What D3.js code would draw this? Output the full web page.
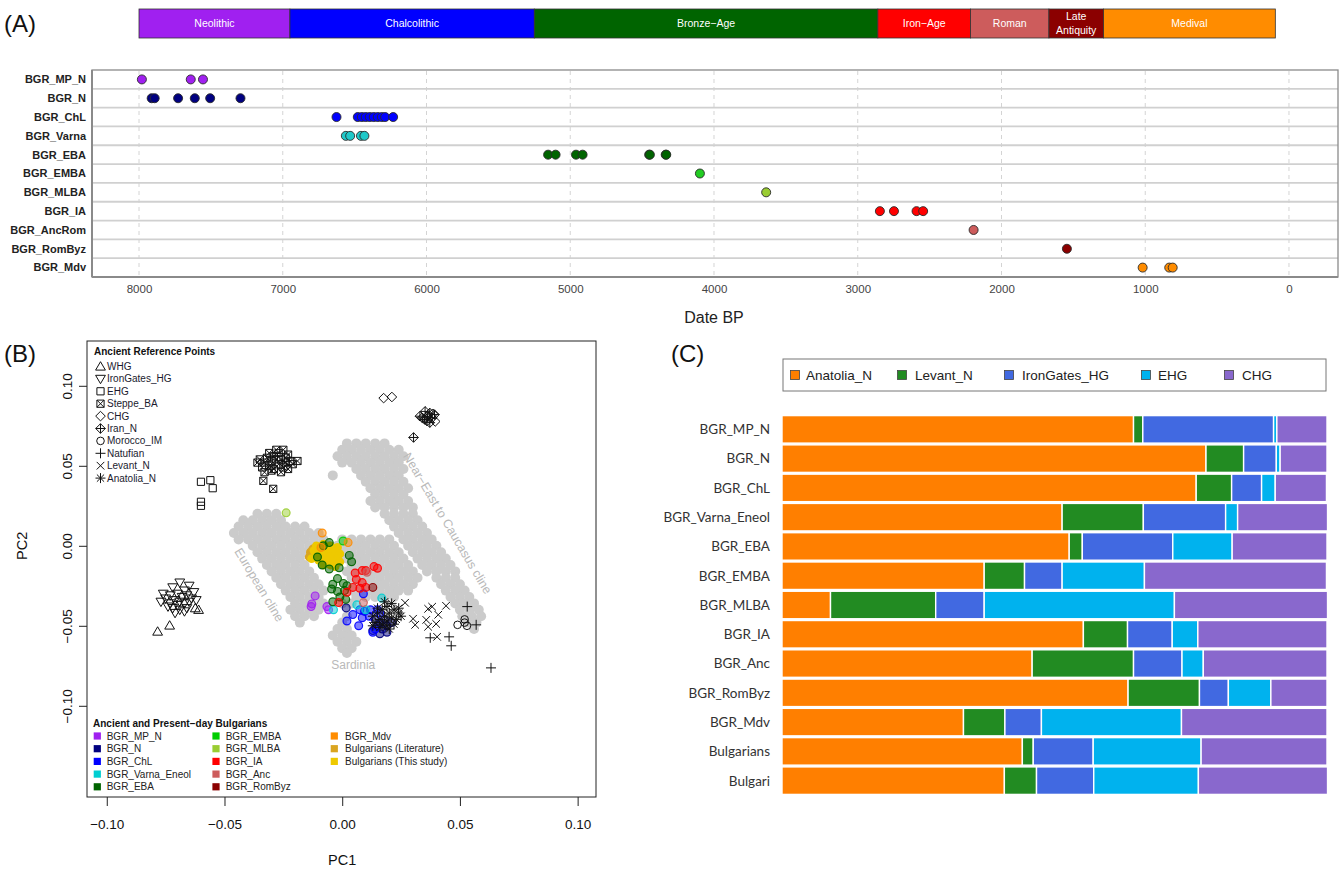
<!DOCTYPE html>
<html>
<head>
<meta charset="utf-8">
<script src="https://cdn.jsdelivr.net/npm/d3@7"></script>
<style>
  body { margin: 0; background: #fff; }
  svg { display: block; }
</style>
</head>
<body>
<svg id="fig" width="1343" height="869"></svg>
<script>
// ---------- Panel A: sample dates ----------
const periodNames  = ["Neolithic", "Chalcolithic", "Bronze\u2212Age", "Iron\u2212Age", "Roman", "Late Antiquity", "Medival"];
const periodStart  = [8000, 6950, 5250, 2860, 2215, 1670, 1290];
const periodEnd    = [6950, 5250, 2860, 2215, 1670, 1290, 95];
const periodColors = ["#A020F0", "#0000FF", "#006400", "#FF0000", "#CD5C5C", "#8B0000", "#FF8C00"];

const groupsA = ["BGR_MP_N", "BGR_N", "BGR_ChL", "BGR_Varna", "BGR_EBA", "BGR_EMBA", "BGR_MLBA", "BGR_IA", "BGR_AncRom", "BGR_RomByz", "BGR_Mdv"];
const groupColorsA = ["#A020F0", "#000080", "#0000FF", "#1EC8C8", "#006400", "#22CC22", "#9ACD32", "#FF0000", "#CD5C5C", "#8B0000", "#FF8C00"];
const datesA = [
  [7980, 7640, 7555],
  [7912, 7891, 7728, 7612, 7505, 7294],
  [6626, 6478, 6450, 6423, 6395, 6367, 6339, 6311, 6288, 6232],
  [6561, 6531, 6456, 6432],
  [5154, 5102, 4960, 4914, 4451, 4446, 4336, 4332],
  [4098],
  [3637],
  [2846, 2748, 2591, 2545],
  [2194],
  [1545],
  [1018, 833, 809]
];
const dateTicks = [8000, 7000, 6000, 5000, 4000, 3000, 2000, 1000, 0];

// ---------- Panel B: PCA ----------
const pcaTicks = [-0.10, -0.05, 0.00, 0.05, 0.10];

// present-day reference individuals (grey), listed row by row as [PC2, [PC1 ...]]
const greyRows = [
  [0.064, [0.002, 0.006, 0.010, 0.014, 0.018]],
  [0.060, [0.000, 0.004, 0.008, 0.012, 0.016, 0.020, 0.024]],
  [0.056, [-0.002, 0.002, 0.006, 0.010, 0.014, 0.018, 0.022, 0.026]],
  [0.052, [0.000, 0.004, 0.008, 0.012, 0.016, 0.020, 0.024]],
  [0.048, [0.006, 0.010, 0.014, 0.018, 0.022, 0.026]],
  [0.044, [-0.004, 0.008, 0.012, 0.016, 0.020, 0.024]],
  [0.040, [0.010, 0.014, 0.018, 0.022, 0.026]],
  [0.036, [0.012, 0.016, 0.020, 0.024, 0.028]],
  [0.032, [0.014, 0.018, 0.022, 0.026]],
  [0.028, [0.012, 0.016, 0.020, 0.024, 0.028]],
  [0.024, [0.014, 0.018, 0.022, 0.026, 0.030]],
  [0.020, [-0.036, -0.032, -0.028, 0.018, 0.022, 0.026, 0.030]],
  [0.016, [-0.042, -0.038, -0.034, -0.030, -0.026, 0.020, 0.024, 0.028, 0.032]],
  [0.012, [-0.044, -0.040, -0.036, -0.032, -0.028, -0.024, -0.020, -0.016, 0.022, 0.026, 0.030, 0.034]],
  [0.008, [-0.046, -0.042, -0.038, -0.034, -0.030, -0.026, -0.022, -0.018, -0.014, -0.010, 0.024, 0.028, 0.032, 0.036]],
  [0.004, [-0.044, -0.040, -0.036, -0.032, -0.028, -0.024, -0.020, -0.016, -0.012, -0.008, 0.000, 0.004, 0.008, 0.012, 0.016, 0.020, 0.026, 0.030, 0.034, 0.038]],
  [0.000, [-0.038, -0.034, -0.030, -0.026, -0.022, -0.018, -0.014, -0.010, -0.006, -0.002, 0.002, 0.006, 0.010, 0.014, 0.018, 0.022, 0.028, 0.032, 0.036, 0.040]],
  [-0.004, [-0.036, -0.032, -0.028, -0.024, -0.020, -0.016, 0.000, 0.004, 0.008, 0.012, 0.016, 0.020, 0.024, 0.030, 0.034, 0.038, 0.042]],
  [-0.008, [-0.034, -0.030, -0.026, -0.022, -0.018, 0.002, 0.006, 0.010, 0.014, 0.018, 0.022, 0.026, 0.032, 0.036, 0.040, 0.044]],
  [-0.012, [-0.032, -0.028, -0.024, -0.020, -0.016, 0.004, 0.008, 0.012, 0.016, 0.020, 0.024, 0.028, 0.034, 0.038, 0.042, 0.046]],
  [-0.016, [-0.030, -0.026, -0.022, -0.018, -0.014, 0.002, 0.006, 0.010, 0.014, 0.018, 0.022, 0.026, 0.030, 0.036, 0.040, 0.044, 0.048]],
  [-0.020, [-0.028, -0.024, -0.020, -0.016, -0.012, 0.004, 0.008, 0.012, 0.016, 0.020, 0.024, 0.028, 0.032, 0.040, 0.044, 0.048]],
  [-0.024, [-0.026, -0.022, -0.018, -0.014, -0.010, 0.006, 0.010, 0.014, 0.018, 0.022, 0.026, 0.030, 0.042, 0.046, 0.050]],
  [-0.028, [-0.024, -0.020, -0.016, -0.012, -0.008, 0.004, 0.008, 0.012, 0.016, 0.020, 0.024, 0.028, 0.044, 0.048, 0.052]],
  [-0.032, [-0.022, -0.018, -0.014, -0.010, 0.006, 0.010, 0.014, 0.018, 0.022, 0.046, 0.050, 0.054]],
  [-0.036, [-0.020, -0.016, -0.012, -0.008, 0.000, 0.004, 0.048, 0.052, 0.056]],
  [-0.040, [-0.022, -0.018, -0.014, -0.010, 0.050, 0.054, 0.058]],
  [-0.044, [-0.020, -0.016, -0.012, 0.002, 0.051, 0.055, 0.059]],
  [-0.048, [-0.018, 0.000, 0.053, 0.057]],
  [-0.052, [-0.002, 0.002, 0.056]],
  [-0.056, [-0.004, 0.000, 0.004]],
  [-0.060, [-0.002, 0.002, 0.006]],
  [-0.064, [0.000, 0.004]],
  [-0.067, [0.002]]
];

// ancient reference groups (black symbols)
const refNames   = ["WHG", "IronGates_HG", "EHG", "Steppe_BA", "CHG", "Iran_N", "Morocco_IM", "Natufian", "Levant_N", "Anatolia_N"];
const refSymbols = ["triUp", "triDown", "square", "squareX", "diamond", "diamondPlus", "circle", "plus", "cross", "asterisk"];
const whgPts = [[-0.0784, -0.0536], [-0.0733, -0.0498], [-0.0624, -0.0390], [-0.0610, -0.0400]];
const ironGatesPts = [[-0.069, -0.023], [-0.065, -0.025], [-0.072, -0.026], [-0.067, -0.028], [-0.063, -0.029], [-0.076, -0.030],
  [-0.073, -0.031], [-0.070, -0.030], [-0.068, -0.032], [-0.066, -0.031], [-0.064, -0.033], [-0.075, -0.033], [-0.071, -0.034],
  [-0.069, -0.035], [-0.067, -0.036], [-0.073, -0.036], [-0.070, -0.037], [-0.065, -0.035], [-0.072, -0.039], [-0.069, -0.040],
  [-0.066, -0.039], [-0.074, -0.038], [-0.071, -0.042], [-0.067, -0.041], [-0.077, -0.035], [-0.062, -0.034]];
const ehgPts = [[-0.060, 0.040], [-0.056, 0.041], [-0.055, 0.036], [-0.060, 0.0275], [-0.060, 0.025]];
const steppePts = [[-0.036, 0.052], [-0.033, 0.052], [-0.034, 0.049], [-0.031, 0.050], [-0.029, 0.048], [-0.032, 0.055],
  [-0.029, 0.056], [-0.027, 0.058], [-0.026, 0.054], [-0.024, 0.052], [-0.022, 0.053], [-0.027, 0.051], [-0.025, 0.049],
  [-0.028, 0.060], [-0.025, 0.060], [-0.023, 0.057], [-0.030, 0.053], [-0.028, 0.054], [-0.026, 0.046], [-0.023, 0.048],
  [-0.021, 0.051], [-0.019, 0.053], [-0.031, 0.058], [-0.035, 0.054], [-0.024, 0.055], [-0.030, 0.047], [-0.033, 0.046],
  [-0.0335, 0.0406], [-0.0293, 0.0356]];
const chgPts = [[0.0176, 0.0923], [0.0211, 0.0930], [0.0395, 0.0777], [0.0385, 0.0825]];
const iranPts = [[0.0352, 0.0840], [0.0362, 0.0810], [0.0340, 0.0800], [0.0372, 0.0830], [0.0382, 0.0800], [0.0360, 0.0780],
  [0.0330, 0.0810], [0.0392, 0.0820], [0.0350, 0.0790], [0.0372, 0.0770], [0.0303, 0.0677]];
const moroccoPts = [[0.049, -0.0494], [0.052, -0.046], [0.052, -0.048], [0.053, -0.050]];
const natufianPts = [[0.0531, -0.038], [0.0569, -0.0494], [0.0374, -0.0575], [0.0454, -0.0569], [0.0463, -0.0625], [0.0632, -0.0763]];
const levantPts = [[0.0267, -0.0356], [0.0365, -0.0394], [0.0382, -0.0381], [0.0441, -0.0375], [0.0301, -0.0456], [0.0310, -0.0494],
  [0.0357, -0.0463], [0.0365, -0.0506], [0.0399, -0.0488], [0.0408, -0.0431], [0.0403, -0.0569]];
const anatoliaPts = [[0.013, -0.044], [0.015, -0.042], [0.017, -0.040], [0.019, -0.038], [0.021, -0.036], [0.016, -0.046],
  [0.018, -0.044], [0.020, -0.042], [0.022, -0.040], [0.024, -0.042], [0.014, -0.048], [0.017, -0.049], [0.019, -0.047],
  [0.021, -0.045], [0.023, -0.046], [0.025, -0.044], [0.016, -0.051], [0.019, -0.050], [0.022, -0.049], [0.013, -0.050],
  [0.018, -0.035], [0.024, -0.039], [0.015, -0.039], [0.020, -0.052]];
const refPoints = [whgPts, ironGatesPts, ehgPts, steppePts, chgPts, iranPts, moroccoPts, natufianPts, levantPts, anatoliaPts];

// ancient and present-day Bulgarians
const bgrNames  = ["BGR_MP_N", "BGR_N", "BGR_ChL", "BGR_Varna_Eneol", "BGR_EBA", "BGR_EMBA", "BGR_MLBA", "BGR_IA", "BGR_Anc", "BGR_RomByz", "BGR_Mdv", "Bulgarians (Literature)", "Bulgarians (This study)"];
const bgrColors = ["#A020F0", "#000080", "#0000FF", "#00CED1", "#006400", "#00CD00", "#9ACD32", "#FF0000", "#CD5C5C", "#8B0000", "#FF8C00", "#DAA520", "#EEC900"];
const bgrPoints = [
  [[-0.0115, -0.0313], [-0.0129, -0.0363], [-0.0132, -0.0380], [-0.0065, -0.0380], [-0.0058, -0.0400]],
  [[0.0017, -0.0388], [0.014, -0.046], [0.016, -0.048], [0.018, -0.046], [0.015, -0.050], [0.017, -0.052], [0.019, -0.050], [0.013, -0.053], [0.016, -0.055], [0.019, -0.054], [0.021, -0.048]],
  [[0.009, -0.030], [0.0075, -0.040], [0.0095, -0.041], [0.012, -0.040], [0.015, -0.040], [0.016, -0.042], [0.002, -0.047], [0.007, -0.050], [0.014, -0.052], [0.0115, -0.044], [0.0085, -0.045], [0.013, -0.054], [0.0045, -0.043]],
  [[0.0062, -0.0369], [0.0168, -0.0327], [-0.0037, -0.0400], [0.0100, -0.0400]],
  [[-0.008, 0.000], [-0.0055, 0.002], [-0.0105, -0.007], [0.003, -0.006], [0.004, -0.010], [-0.0085, -0.012], [-0.0055, -0.0145], [-0.0013, -0.0137], [-0.002, -0.0205], [-0.004, -0.024], [-0.002, -0.0285], [0.0005, -0.0235], [0.002, -0.025], [0.001, -0.028], [-0.001, -0.032], [-0.004, -0.035], [0.0015, -0.0335], [-0.0045, -0.027]],
  [[0.0004, 0.0030]],
  [[-0.0238, 0.0206]],
  [[0.0055, -0.017], [0.0085, -0.0155], [0.010, -0.0155], [0.0135, -0.013], [0.015, -0.014], [0.006, -0.021], [0.0085, -0.023], [0.0045, -0.026], [0.0075, -0.0265], [0.010, -0.026], [0.002, -0.029], [-0.0015, -0.0355]],
  [[0.0105, -0.0165], [0.009, -0.0355]],
  [[0.013, -0.026]],
  [[-0.0085, 0.0080], [0.0025, 0.0020], [-0.009, -0.001]],
  [[-0.0135, -0.004], [-0.014, -0.007], [-0.0125, -0.002]],
  [[-0.011, 0.000], [-0.008, 0.001], [-0.005, 0.000], [-0.002, -0.001], [-0.012, -0.003], [-0.009, -0.003], [-0.006, -0.003], [-0.003, -0.004],
   [-0.001, -0.005], [-0.011, -0.006], [-0.008, -0.006], [-0.005, -0.007], [-0.002, -0.008], [-0.010, -0.009], [-0.007, -0.009],
   [-0.004, -0.010], [-0.001, -0.010], [-0.008, -0.012], [-0.005, -0.012], [-0.013, -0.008], [-0.003, -0.013]]
];
// drawing order: present-day clusters first, ancient groups on top
const bgrDrawOrder = [11, 12, 0, 1, 2, 3, 4, 5, 6, 7, 8, 9, 10];

// ---------- Panel C: admixture proportions ----------
const admixRows    = ["BGR_MP_N", "BGR_N", "BGR_ChL", "BGR_Varna_Eneol", "BGR_EBA", "BGR_EMBA", "BGR_MLBA", "BGR_IA", "BGR_Anc", "BGR_RomByz", "BGR_Mdv", "Bulgarians", "Bulgari"];
const admixSources = ["Anatolia_N", "Levant_N", "IronGates_HG", "EHG", "CHG"];
const admixColors  = ["#FF7F00", "#228B22", "#4169E1", "#00B2EE", "#8968CD"];
const anatoliaN   = [0.645, 0.778, 0.760, 0.514, 0.527, 0.371, 0.089, 0.553, 0.459, 0.635, 0.333, 0.441, 0.408];
const levantN     = [0.017, 0.069, 0.065, 0.149, 0.024, 0.074, 0.193, 0.081, 0.186, 0.131, 0.076, 0.020, 0.059];
const ironGatesHG = [0.240, 0.060, 0.055, 0.151, 0.166, 0.069, 0.089, 0.082, 0.089, 0.053, 0.067, 0.110, 0.105];
const ehg         = [0.006, 0.007, 0.025, 0.022, 0.109, 0.151, 0.349, 0.047, 0.039, 0.078, 0.257, 0.198, 0.192];
const chg         = [0.092, 0.086, 0.094, 0.165, 0.174, 0.334, 0.281, 0.237, 0.227, 0.103, 0.267, 0.231, 0.237];

// ======================================================================
const SANS = "'Liberation Sans', Arial, Helvetica, sans-serif";
const svg = d3.select("#fig").style("font-family", SANS);

// panel tags
[["(A)", 4, 32], ["(B)", 4, 362], ["(C)", 671, 362]].forEach(([t, x, y]) =>
  svg.append("text").attr("x", x).attr("y", y).attr("font-size", 24).attr("fill", "#111").text(t));

// ---------------- Panel A ----------------
const xA = d3.scaleLinear().domain([8327, -341]).range([92, 1338]);
const yA = d3.scaleBand().domain(groupsA).range([70, 277]);
const gA = svg.append("g");

// period bar
const gP = gA.append("g");
periodNames.forEach((name, i) => {
  const x0 = xA(periodStart[i]), x1 = xA(periodEnd[i]);
  gP.append("rect").attr("x", x0).attr("y", 9).attr("width", x1 - x0).attr("height", 29)
    .attr("fill", periodColors[i]).attr("stroke", "#333").attr("stroke-width", 0.8);
  const lines = name === "Late Antiquity" ? ["Late", "Antiquity"] : [name];
  lines.forEach((ln, j) => {
    const cy = lines.length === 1 ? 23.5 : (j === 0 ? 16.5 : 30);
    gP.append("text").attr("x", (x0 + x1) / 2).attr("y", cy).attr("dy", "0.35em")
      .attr("text-anchor", "middle").attr("font-size", 10.5).attr("fill", "#fff").text(ln);
  });
});

// vertical dashed grid
gA.append("g").selectAll("line").data(dateTicks).join("line")
  .attr("x1", d => xA(d)).attr("x2", d => xA(d)).attr("y1", 71).attr("y2", 276)
  .attr("stroke", "#d4d4d4").attr("stroke-width", 1).attr("stroke-dasharray", "4,4");

// row separators
gA.append("g").selectAll("line").data(groupsA.slice(1)).join("line")
  .attr("x1", 92).attr("x2", 1338).attr("y1", d => yA(d)).attr("y2", d => yA(d))
  .attr("stroke", "#d0d0d0").attr("stroke-width", 1.8);

// frame
gA.append("rect").attr("x", 92).attr("y", 70).attr("width", 1246).attr("height", 207)
  .attr("fill", "none").attr("stroke", "#8a8a8a").attr("stroke-width", 1.3);
gA.append("line").attr("x1", 92).attr("x2", 1338).attr("y1", 277).attr("y2", 277)
  .attr("stroke", "#8a8a8a").attr("stroke-width", 2.2);
gA.append("line").attr("x1", 92).attr("x2", 92).attr("y1", 70).attr("y2", 277)
  .attr("stroke", "#8a8a8a").attr("stroke-width", 2);

// dots
groupsA.forEach((g, i) => {
  gA.append("g").selectAll("circle").data(datesA[i]).join("circle")
    .attr("cx", d => xA(d)).attr("cy", yA(g) + yA.bandwidth() / 2).attr("r", 4.5)
    .attr("fill", groupColorsA[i]).attr("stroke", "#2a2a2a").attr("stroke-width", 0.9);
});

// row labels
gA.append("g").selectAll("text").data(groupsA).join("text")
  .attr("x", 86).attr("y", d => yA(d) + yA.bandwidth() / 2).attr("dy", "0.35em")
  .attr("text-anchor", "end").attr("font-size", 11).attr("font-weight", "bold").attr("fill", "#222")
  .text(d => d);

// date axis
const axA = gA.append("g").attr("transform", "translate(0,277)")
  .call(d3.axisBottom(xA).tickValues(dateTicks).tickFormat(d3.format("d")).tickSize(0).tickPadding(8));
axA.select(".domain").remove();
axA.selectAll("text").attr("font-size", 11.5).attr("fill", "#444").attr("font-family", SANS);
gA.append("text").attr("x", xA(4000)).attr("y", 323).attr("text-anchor", "middle")
  .attr("font-size", 16).attr("fill", "#222").text("Date BP");

// ---------------- Panel B ----------------
const xB = d3.scaleLinear().domain([-0.1084, 0.1078]).range([87, 596]);
const yB = d3.scaleLinear().domain([-0.157, 0.128]).range([797, 341]);
const gB = svg.append("g");

// symbol shapes (pixel geometry of each plotting character)
function symbolPath(type) {
  switch (type) {
    case "triUp":   return "M0,-4.8L4.9,3.6L-4.9,3.6Z";
    case "triDown": return "M0,4.8L4.9,-3.6L-4.9,-3.6Z";
    case "square":  return "M-3.6,-3.6H3.6V3.6H-3.6Z";
    case "squareX": return "M-3.6,-3.6H3.6V3.6H-3.6ZM-3.6,-3.6L3.6,3.6M3.6,-3.6L-3.6,3.6";
    case "diamond": return "M0,-4.8L4.8,0L0,4.8L-4.8,0Z";
    case "diamondPlus": return "M0,-4.8L4.8,0L0,4.8L-4.8,0ZM0,-4.8V4.8M-4.8,0H4.8";
    case "circle":  return "M3.8,0A3.8,3.8 0 1,1 -3.8,0A3.8,3.8 0 1,1 3.8,0Z";
    case "plus":    return "M-5,0H5M0,-5V5";
    case "cross":   return "M-3.8,-3.8L3.8,3.8M3.8,-3.8L-3.8,3.8";
    case "asterisk":return "M-5,0H5M0,-5V5M-3.6,-3.6L3.6,3.6M3.6,-3.6L-3.6,3.6";
  }
}

// grey background individuals
const greyCloud = greyRows.flatMap(([y, xs]) => xs.map(x => [x, y]));
gB.append("g").selectAll("circle").data(greyCloud).join("circle")
  .attr("cx", d => xB(d[0])).attr("cy", d => yB(d[1])).attr("r", 5).attr("fill", "#cbcbcb");

// cline annotations
const clineLabels = [
  { text: "European cline", x: -0.0352, y: -0.0244, angle: 59, size: 12.5 },
  { text: "Near\u2212East to Caucasus cline", x: 0.0448, y: 0.0141, angle: 59.4, size: 12.5 },
  { text: "Sardinia", x: 0.0047, y: -0.0744, angle: 0, size: 12 }
];
gB.append("g").selectAll("text").data(clineLabels).join("text")
  .attr("transform", d => `translate(${xB(d.x)},${yB(d.y)}) rotate(${d.angle})`)
  .attr("text-anchor", "middle").attr("dy", "0.35em").attr("font-size", d => d.size)
  .attr("fill", "#b9b9b9").text(d => d.text);

// Bulgarian samples: present-day opaque, ancient translucent
bgrDrawOrder.forEach(i => {
  const modern = i >= 11;
  gB.append("g").selectAll("circle").data(bgrPoints[i]).join("circle")
    .attr("cx", d => xB(d[0])).attr("cy", d => yB(d[1])).attr("r", modern ? 4.4 : 3.9)
    .attr("fill", bgrColors[i]).attr("fill-opacity", modern ? 1 : 0.5)
    .attr("stroke", modern ? "none" : bgrColors[i]).attr("stroke-opacity", 0.9).attr("stroke-width", 1.2);
});

// ancient reference symbols
refNames.forEach((name, i) => {
  gB.append("g").selectAll("path").data(refPoints[i]).join("path")
    .attr("transform", d => `translate(${xB(d[0])},${yB(d[1])})`)
    .attr("d", symbolPath(refSymbols[i])).attr("fill", "none").attr("stroke", "#111").attr("stroke-width", 1);
});

// frame and axes
gB.append("rect").attr("x", 87).attr("y", 341).attr("width", 509).attr("height", 456)
  .attr("fill", "none").attr("stroke", "#222").attr("stroke-width", 1);
const fmt = d3.format(".2f");
const axBx = gB.append("g").attr("transform", "translate(0,797)")
  .call(d3.axisBottom(xB).tickValues(pcaTicks).tickFormat(fmt).tickSize(9).tickPadding(13));
axBx.select(".domain").remove();
axBx.selectAll("text").attr("font-size", 13.5).attr("fill", "#111").attr("font-family", SANS);
axBx.selectAll("line").attr("stroke", "#222");
const axBy = gB.append("g").attr("transform", "translate(87,0)")
  .call(d3.axisLeft(yB).tickValues(pcaTicks).tickFormat(fmt).tickSize(8));
axBy.select(".domain").remove();
axBy.selectAll("line").attr("stroke", "#222");
axBy.selectAll("text").attr("font-size", 13.5).attr("fill", "#111").attr("font-family", SANS)
  .attr("text-anchor", "middle").attr("x", 0).attr("dy", 0)
  .attr("transform", "translate(-15,0) rotate(-90)");
gB.append("text").attr("x", xB(0)).attr("y", 865).attr("text-anchor", "middle")
  .attr("font-size", 14.5).attr("fill", "#111").text("PC1");
gB.append("text").attr("transform", `translate(27,${yB(0)}) rotate(-90)`).attr("text-anchor", "middle")
  .attr("font-size", 14.5).attr("fill", "#111").text("PC2");

// legend: ancient reference points
const lg1 = gB.append("g");
lg1.append("text").attr("x", 94).attr("y", 351).attr("dy", "0.35em").attr("font-size", 10)
  .attr("font-weight", "bold").attr("fill", "#111").text("Ancient Reference Points");
refNames.forEach((name, i) => {
  const cy = 366.5 + i * 12.4;
  lg1.append("path").attr("transform", `translate(100.5,${cy})`).attr("d", symbolPath(refSymbols[i]))
    .attr("fill", "none").attr("stroke", "#111").attr("stroke-width", 1);
  lg1.append("text").attr("x", 107).attr("y", cy).attr("dy", "0.35em").attr("font-size", 10)
    .attr("fill", "#1a1a2e").text(name);
});

// legend: Bulgarians
const lg2 = gB.append("g");
lg2.append("text").attr("x", 93).attr("y", 723).attr("dy", "0.35em").attr("font-size", 10)
  .attr("font-weight", "bold").attr("fill", "#111").text("Ancient and Present\u2212day Bulgarians");
const colSq = [97.3, 216, 334.3], colTx = [106.7, 225.7, 345];
bgrNames.forEach((name, i) => {
  const col = Math.floor(i / 5), row = i % 5;
  const cy = 736 + row * 12.7;
  lg2.append("rect").attr("x", colSq[col] - 3.6).attr("y", cy - 3.6).attr("width", 7.2).attr("height", 7.2)
    .attr("fill", bgrColors[i]);
  lg2.append("text").attr("x", colTx[col]).attr("y", cy).attr("dy", "0.35em").attr("font-size", 10)
    .attr("fill", "#222").text(name);
});

// ---------------- Panel C ----------------
const table = admixRows.map((r, i) => ({
  row: r, Anatolia_N: anatoliaN[i], Levant_N: levantN[i], IronGates_HG: ironGatesHG[i], EHG: ehg[i], CHG: chg[i]
}));
const stacked = d3.stack().keys(admixSources)(table);
const xC = d3.scaleLinear().domain([0, 1]).range([782, 1327]);
const yC = d3.scaleBand().domain(admixRows).range([415, 795]).paddingInner(0.06).paddingOuter(0.02);
const gC = svg.append("g");
stacked.forEach((layer, k) => {
  gC.append("g").selectAll("rect").data(layer).join("rect")
    .attr("x", d => xC(d[0])).attr("width", d => Math.max(0, xC(d[1]) - xC(d[0])))
    .attr("y", d => yC(d.data.row)).attr("height", yC.bandwidth())
    .attr("fill", admixColors[k]).attr("stroke", "#fff").attr("stroke-width", 1.4);
});
gC.append("g").selectAll("text").data(admixRows).join("text")
  .attr("x", 770).attr("y", d => yC(d) + yC.bandwidth() / 2).attr("dy", "0.36em")
  .attr("text-anchor", "end").attr("font-family", "Lato, 'Open Sans', sans-serif").attr("font-size", 13.5)
  .attr("fill", "#333").text(d => d);

// legend
const lg3 = gC.append("g");
lg3.append("rect").attr("x", 783).attr("y", 359).attr("width", 543).attr("height", 32)
  .attr("fill", "#fff").attr("stroke", "#777").attr("stroke-width", 1);
const lgSq = [795, 902, 1009, 1146, 1229], lgTx = [806, 915, 1022, 1158, 1242];
admixSources.forEach((s, k) => {
  lg3.append("rect").attr("x", lgSq[k] - 4.5).attr("y", 370.5).attr("width", 9).attr("height", 9)
    .attr("fill", admixColors[k]).attr("stroke", "#444").attr("stroke-width", 0.8);
  lg3.append("text").attr("x", lgTx[k]).attr("y", 375).attr("dy", "0.35em").attr("font-size", 13.5)
    .attr("fill", "#222").text(s);
});
</script>
</body>
</html>
